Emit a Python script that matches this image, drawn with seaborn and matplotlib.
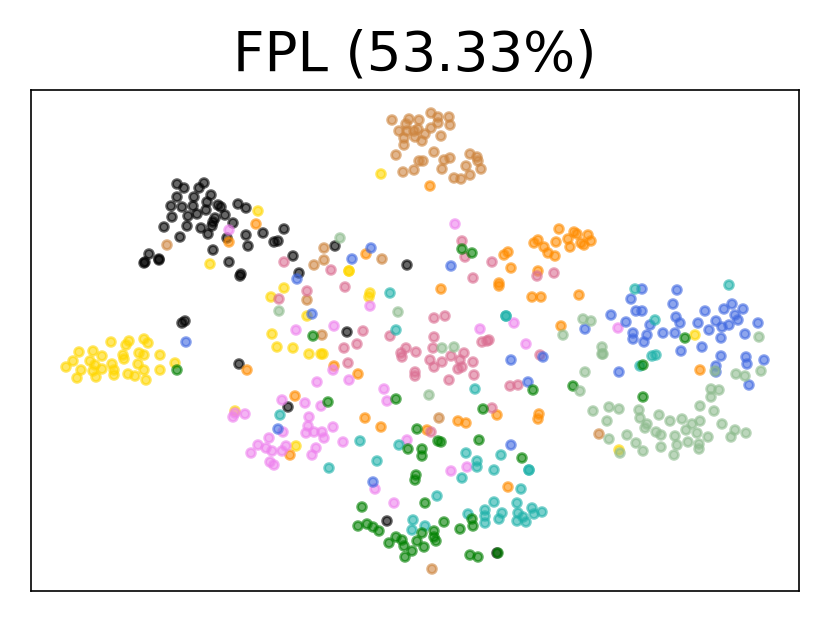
import pandas as pd
import matplotlib
matplotlib.use("Agg")
import matplotlib.pyplot as plt
import seaborn as sns

# embedding coordinates per class
black_pts = [(177,184),(184,188),(204,183),(199,188),(211,195),(177,197),(194,197),(207,202),(171,206),(182,207),(193,206),
    (218,205),(221,207),(206,210),(197,214),(188,216),(172,217),(225,215),(215,218),(213,222),(233,223),(164,227),(187,226),
    (201,228),(212,226),(208,234),(227,238),(238,204),(246,208),(246,235),(263,233),(284,229),(274,242),(278,241),(248,246),
    (180,237),(213,250),(229,262),(241,274),(240,276),(149,254),(159,260),(159,259),(144,263),(145,262),(293,256),(299,273),
    (335,246),(407,265),(347,332),(185,321),(182,323),(239,364),(288,407),(387,521),(497,553)]
peru_pts = [(392,120),(409,119),(419,120),(431,113),(438,117),(449,117),(450,125),(406,124),(438,123),(431,128),(399,131),
    (407,131),(414,131),(418,129),(425,134),(415,137),(422,141),(404,138),(404,145),(441,136),(396,155),(434,152),(470,154),
    (477,157),(478,161),(450,158),(444,160),(423,161),(419,161),(466,166),(481,169),(442,169),(414,170),(403,172),(470,175),
    (461,179),(454,178),(167,245),(324,248),(324,260),(314,265),(382,259),(307,300),(322,335),(599,434),(439,418),(432,569)]
gold_pts = [(258,211),(210,264),(284,288),(271,297),(272,334),(277,347),(381,174),(349,271),(349,271),(370,293),(369,297),
    (307,316),(293,348),(309,354),(321,354),(323,354),(296,446),(695,335),(619,450),(235,411),(111,342),(129,341),(126,345),
    (144,339),(148,343),(79,352),(93,351),(102,356),(123,355),(124,359),(139,353),(144,355),(160,355),(73,361),(90,361),
    (95,365),(112,364),(138,364),(66,367),(81,370),(93,371),(102,369),(114,370),(144,370),(160,370),(175,363),(77,378),
    (96,377),(114,375),(128,374),(135,376),(146,380)]
orange_pts = [(256,224),(229,242),(430,186),(366,254),(441,289),(499,283),(499,286),(511,268),(508,252),(504,255),(532,297),
    (541,297),(538,271),(534,243),(538,240),(544,247),(548,253),(559,229),(574,232),(577,234),(588,235),(568,239),(556,242),
    (581,243),(591,241),(584,245),(570,247),(555,256),(579,295),(561,326),(700,370),(539,414),(538,419),(497,415),(365,418),
    (381,427),(458,421),(466,423),(427,430),(334,366),(358,374),(295,396),(290,455),(508,487),(247,370)]
pink_pts = [(284,262),(279,299),(331,270),(307,291),(345,287),(363,331),(390,336),(434,318),(445,316),(462,241),(465,257),
    (492,262),(473,278),(537,276),(554,273),(344,348),(357,344),(348,363),(434,337),(433,348),(406,348),(401,353),(402,357),
    (416,352),(430,360),(442,362),(451,356),(464,353),(460,360),(434,367),(458,369),(462,367),(473,362),(474,375),(449,380),
    (415,372),(415,376),(482,342),(487,341),(489,340),(510,386),(518,385),(540,355),(492,408),(431,432)]
violet_pts = [(229,230),(455,224),(370,306),(296,330),(334,326),(480,329),(514,323),(618,328),(526,344),(333,370),(349,380),
    (317,382),(384,389),(387,401),(305,403),(321,406),(282,400),(245,414),(235,413),(233,417),(283,432),(269,438),(258,445),
    (266,448),(272,451),(286,446),(282,451),(251,453),(270,462),(274,465),(309,417),(308,426),(306,433),(314,432),(322,432),
    (324,438),(333,427),(343,442),(316,448),(312,455),(407,440),(451,471),(467,467),(375,489),(394,503)]
blue_pts = [(186,342),(371,248),(352,259),(297,279),(312,314),(451,266),(511,360),(543,357),(528,382),(511,445),(373,482),
    (278,429),(642,289),(631,299),(677,290),(673,304),(676,317),(680,323),(611,315),(636,311),(642,311),(626,322),(585,329),
    (650,325),(633,333),(633,339),(647,335),(644,342),(663,333),(675,333),(681,351),(698,323),(705,311),(716,321),(709,330),
    (721,338),(702,347),(724,309),(732,304),(743,309),(735,315),(738,320),(729,325),(722,327),(758,323),(745,334),(721,356),
    (746,357),(747,364),(764,360),(716,366),(716,372),(749,385),(619,372)]
teal_pts = [(390,293),(396,330),(506,316),(506,316),(635,289),(655,320),(729,285),(652,356),(656,355),(640,366),(280,415),
    (360,441),(329,468),(377,461),(399,445),(475,389),(466,453),(477,461),(477,467),(501,455),(494,470),(462,478),(529,470),
    (529,470),(521,489),(437,496),(494,502),(517,503),(532,508),(542,512),(485,510),(468,514),(485,516),(502,513),(499,519),
    (518,513),(523,517),(517,521),(526,522),(534,514),(485,523),(413,520),(412,530),(425,526)]
green_pts = [(462,249),(472,253),(313,336),(685,338),(643,365),(573,386),(643,397),(177,370),(533,390),(483,409),(396,399),
    (328,402),(417,429),(438,441),(441,442),(479,440),(408,449),(422,449),(422,456),(522,458),(416,475),(415,480),(425,503),
    (362,507),(358,526),(367,524),(373,527),(379,531),(389,543),(396,537),(402,540),(404,546),(412,551),(405,557),(417,541),
    (422,533),(424,547),(434,531),(434,537),(436,541),(444,522),(460,529),(472,519),(473,526),(470,555),(478,557),(498,553)]
sage_pts = [(340,238),(279,311),(398,312),(442,348),(454,347),(429,395),(583,319),(591,321),(563,335),(602,347),(602,354),
    (603,354),(759,337),(585,372),(715,371),(736,374),(745,376),(761,371),(580,391),(711,389),(719,390),(711,397),(700,406),
    (714,411),(593,411),(609,407),(619,409),(639,410),(640,418),(659,415),(607,421),(670,421),(682,419),(700,421),(722,424),
    (647,424),(645,428),(692,424),(686,430),(697,433),(735,430),(746,433),(656,432),(661,435),(627,435),(675,436),(708,437),
    (731,437),(609,439),(688,442),(636,443),(699,444),(677,445),(661,447),(699,449),(643,451),(620,453),(674,455)]

classes = {
    "black": black_pts, "peru": peru_pts, "gold": gold_pts, "darkorange": orange_pts,
    "palevioletred": pink_pts, "violet": violet_pts, "royalblue": blue_pts,
    "lightseagreen": teal_pts, "green": green_pts, "darkseagreen": sage_pts,
}

rows = [(x, y, c) for c, pts in classes.items() for x, y in pts]
df = pd.DataFrame(rows, columns=["x", "y", "label"])

sns.set_style("white")
plt.rcParams["font.family"] = "DejaVu Sans"

fig = plt.figure(figsize=(4.15, 3.115), dpi=200)
ax = fig.add_axes([31 / 830, 32 / 623, 768 / 830, 501 / 623])

sns.scatterplot(data=df, x="x", y="y", hue="label", palette={c: c for c in classes},
                s=10, alpha=0.6, edgecolor="face", linewidth=1.0, legend=False, ax=ax)

ax.set_xlim(31, 799)
ax.set_ylim(591, 90)
ax.set(xticks=[], yticks=[], xlabel="", ylabel="")
for spine in ax.spines.values():
    spine.set_color("black")
    spine.set_linewidth(0.6)
ax.set_title("FPL (53.33%)", fontsize=19.7, pad=7, color="black")

fig.savefig("out.png", dpi=200)
